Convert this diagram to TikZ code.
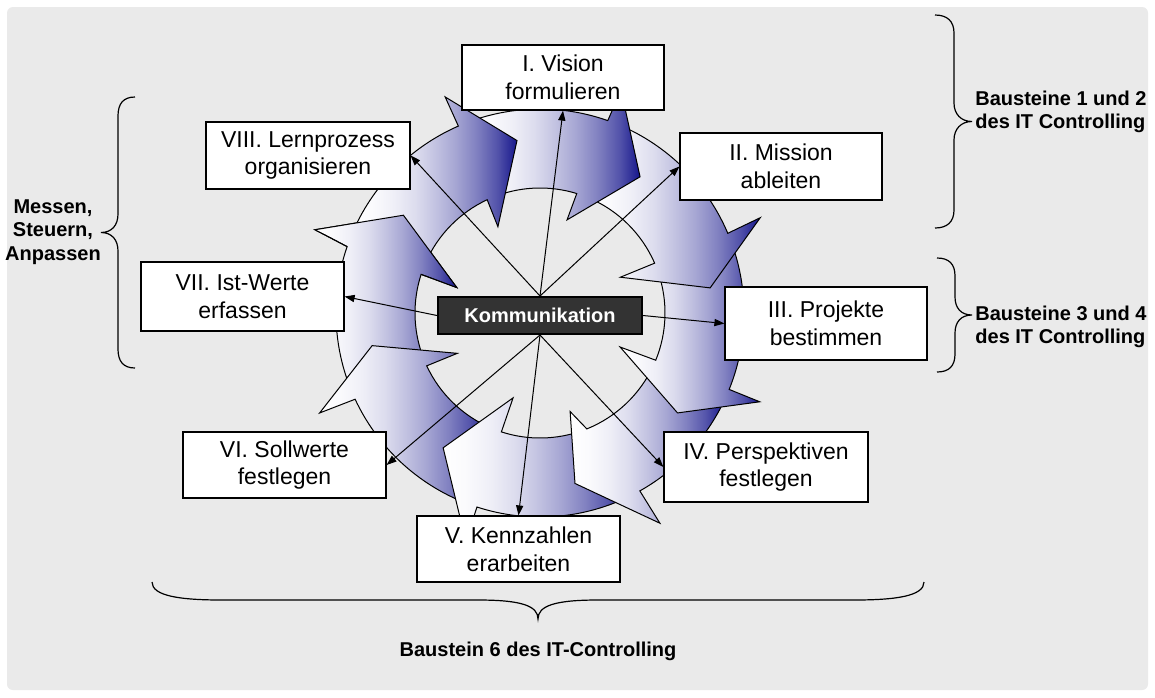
\documentclass[tikz,border=0pt]{standalone}
\usepackage{fontspec}
\setmainfont{Liberation Sans}
\usetikzlibrary{arrows.meta}
\definecolor{bggray}{RGB}{234,234,234}
\definecolor{ringblue}{RGB}{22,22,140}
\definecolor{kommfill}{RGB}{51,51,51}
\pgfdeclarehorizontalshading{ringshade}{100bp}{%
  color(0bp)=(white); color(25bp)=(white); color(31bp)=(ringblue!2);
  color(37.5bp)=(ringblue!7); color(44bp)=(ringblue!15); color(50bp)=(ringblue!26);
  color(56bp)=(ringblue!38); color(62.5bp)=(ringblue!54); color(69bp)=(ringblue!74);
  color(75bp)=(ringblue); color(100bp)=(ringblue)}
% #1 tail outer angle, #2 tail inner angle, #3 outer neck angle,
% #4 outer barb, #5 tip, #6 inner barb, #7 inner neck angle
\newcommand\ringpath[7]{%
  (#1:102pt) arc[start angle=#1, end angle=#3, radius=102pt]
  -- (#4) -- (#5) -- (#6) -- (#7:62.5pt)
  arc[start angle=#7, end angle=#2, radius=62.5pt] -- cycle}
\begin{document}
\begin{tikzpicture}[x=0.5pt,y=0.5pt,
  box/.style={draw=black, line width=0.6pt, fill=white, align=center, inner sep=0pt,
    font=\fontsize{11.5}{13.85}\selectfont},
  conn/.style={line width=0.5pt, -{Triangle[length=5pt,width=3.6pt]}},
  lbl/.style={font=\bfseries\fontsize{10}{11.75}\selectfont, inner sep=0pt},
  brace/.style={line width=0.6pt},
  ringarrow/.style={shading=ringshade, draw=black, line width=0.5pt}]

\useasboundingbox (0,0) rectangle (1155,-697);
\fill[white] (0,0) rectangle (1155,-697);
\fill[bggray, rounded corners=3pt] (7,-7) rectangle (1148,-690);

% ring of curved arrows
\begin{scope}[shift={(540,-313)}]
  \shadedraw[ringarrow] \ringpath{200}{200}{161}{159.7:120pt}{144.4:84pt}{163:43.5pt}{162};
  \shadedraw[ringarrow] \ringpath{-113}{-113}{-155}{-155.6:121pt}{-169:85.5pt}{-154:46pt}{-155};
  \shadedraw[ringarrow] \ringpath{-63}{-70}{-108}{-108:120pt}{-125.7:83pt}{-107.6:44.5pt}{-108};
  \shadedraw[ringarrow] \ringpath{-25}{-25}{-60.7}{-60.3:121pt}{-78.4:87pt}{-73:51.5pt}{-68};
  \shadedraw[ringarrow] \ringpath{18.5}{18.5}{-22}{-22:118.5pt}{-36:85pt}{-23:43.5pt}{-22.2};
  \shadedraw[ringarrow] \ringpath{67}{67}{23}{23.4:120pt}{8.4:86pt}{24:44pt}{23.5};
  \shadedraw[ringarrow] \ringpath{110}{110}{70.6}{70:118.5pt}{53.7:84.5pt}{73.8:48.5pt}{72.9};
  \shadedraw[ringarrow] \ringpath{156}{156}{113.6}{113.7:118pt}{97.6:87pt}{116:48pt}{115};
  \begin{scope}
    \clip (159.7:120pt) -- (144.4:84pt) -- (163:43.5pt) -- cycle;
    \shade[shading=ringshade] \ringpath{200}{200}{161}{159.7:120pt}{144.4:84pt}{163:43.5pt}{162};
  \end{scope}
  \draw[line width=0.5pt] (161:102pt) -- (159.7:120pt) -- (144.4:84pt) -- (163:43.5pt) -- (162:62.5pt);
\end{scope}

% boxes
\node[box, minimum width=101pt, minimum height=32.5pt] (vis) at (563,-77.5) {I. Vision\\formulieren};
\node[box, minimum width=101pt, minimum height=33.5pt] (mis) at (781,-166.5) {II. Mission\\ableiten};
\node[box, minimum width=101pt, minimum height=36.5pt] (pro) at (826,-323.5) {III. Projekte\\bestimmen};
\node[box, minimum width=102pt, minimum height=35pt] (per) at (766,-467) {IV. Perspektiven\\festlegen};
\node[box, minimum width=101.5pt, minimum height=33pt] (ken) at (518.5,-549) {V. Kennzahlen\\erarbeiten};
\node[box, minimum width=101.5pt, minimum height=33pt] (sol) at (284.5,-465) {VI. Sollwerte\\festlegen};
\node[box, minimum width=101.5pt, minimum height=34.5pt] (ist) at (242.5,-296.5) {VII. Ist-Werte\\erfassen};
\node[box, minimum width=102pt, minimum height=33.5pt] (ler) at (308,-155.5) {VIII. Lernprozess\\organisieren};
\node[draw=black, line width=1pt, fill=kommfill, text=white, inner sep=0pt,
  font=\bfseries\fontsize{10}{12}\selectfont, minimum width=102pt, minimum height=18.5pt]
  (kom) at (540,-315.5) {Kommunikation};

% connectors
\draw[conn] (kom.north) -- (vis.south);
\draw[conn] (kom.north) -- (ler.east);
\draw[conn] (kom.north) -- (mis.west);
\draw[conn] (kom.west) -- (ist.east);
\draw[conn] (kom.east) -- (pro.west);
\draw[conn] (kom.south) -- (sol.east);
\draw[conn] (kom.south) -- (ken.north);
\draw[conn] (kom.south) -- (per.west);

% braces
\draw[brace] (935,-15) .. controls (947,-15) and (954,-21) .. (954,-33) -- (954,-103)
  .. controls (954,-114) and (961,-121.5) .. (972,-121.5)
  .. controls (961,-121.5) and (954,-129) .. (954,-140) -- (954,-210)
  .. controls (954,-222) and (947,-228) .. (935,-228);
\draw[brace] (937,-258) .. controls (949,-258) and (955,-264) .. (955,-276) -- (955,-297)
  .. controls (955,-308) and (961,-315) .. (972,-315)
  .. controls (961,-315) and (955,-322) .. (955,-333) -- (955,-354)
  .. controls (955,-366) and (949,-372) .. (937,-372);
\draw[brace] (135,-97) .. controls (123,-97) and (118,-104) .. (118,-116) -- (118,-214)
  .. controls (118,-225) and (112,-232.5) .. (101,-232.5)
  .. controls (112,-232.5) and (118,-240) .. (118,-251) -- (118,-349)
  .. controls (118,-361) and (123,-368) .. (135,-368);
\draw[brace] (152,-582) .. controls (152,-596) and (180,-600) .. (222,-600) -- (478,-600)
  .. controls (522,-600) and (538,-606) .. (538,-619)
  .. controls (538,-606) and (554,-600) .. (598,-600) -- (854,-600)
  .. controls (896,-600) and (924,-596) .. (924,-582);

% labels
\node[lbl, align=left, anchor=west] (b12) at (975,-112) {Bausteine 1 und 2\\des IT Controlling};
\node[lbl, align=left, anchor=west] (b34) at (975,-327) {Bausteine 3 und 4\\des IT Controlling};
\node[lbl, align=center] (msa) at (53,-232) {Messen,\\Steuern,\\Anpassen};
\node[lbl] (b6) at (538,-651) {Baustein 6 des IT-Controlling};
\end{tikzpicture}
\end{document}
